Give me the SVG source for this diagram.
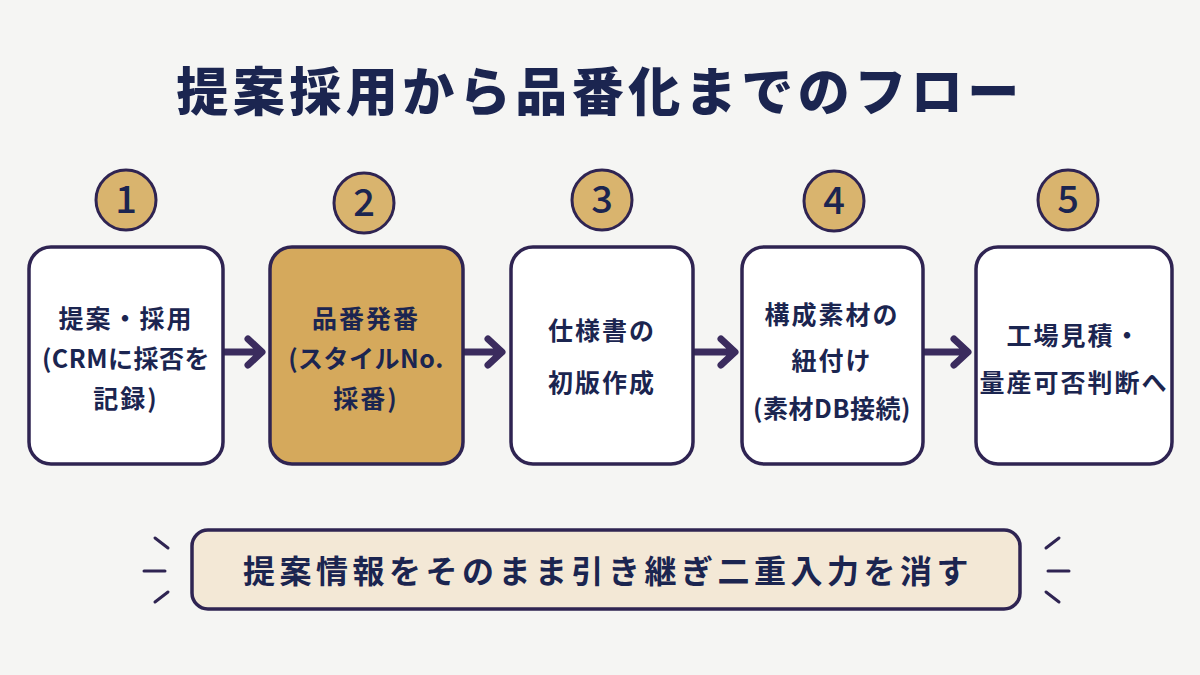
<svg xmlns="http://www.w3.org/2000/svg" width="1200" height="675" viewBox="0 0 1200 675">
<defs>
<style>
text{font-family:"Noto Sans CJK JP","Noto Sans",sans-serif;fill:#1b2550;text-anchor:middle;font-weight:700}
.title{font-size:52px;letter-spacing:4.5px;font-weight:900}
.num{font-size:38px;font-weight:500}
.lbl{font-size:25px;letter-spacing:2px}
.tight{letter-spacing:0.5px}
.box{fill:#ffffff;stroke:#2f2452;stroke-width:3.5}
.hl{fill:#d5a95c}
.badge{fill:#d9b46e;stroke:#2f2452;stroke-width:3}
.arr{fill:none;stroke:#3b2c5e;stroke-width:7;stroke-linecap:round;stroke-linejoin:round}
.tick{stroke:#2f2452;stroke-width:3;stroke-linecap:round}
</style>
</defs>
<rect width="1200" height="675" fill="#f5f5f3"/>
<text class="title" x="600" y="111">提案採用から品番化までのフロー</text>

<g id="connectors">
<path class="arr" d="M224 352H260M248 339L262 352L248 365"/>
<path class="arr" d="M464 352H500M488 339L502 352L488 365"/>
<path class="arr" d="M695 352H733M721 339L735 352L721 365"/>
<path class="arr" d="M924 352H966M954 339L968 352L954 365"/>
</g>

<g id="node1">
<circle class="badge" cx="126" cy="200" r="30"/>
<text class="num" x="126" y="213">1</text>
<rect class="box" x="29" y="247" width="194" height="217" rx="22"/>
<text class="lbl" x="126" y="328">提案・採用</text>
<text class="lbl tight" x="126" y="368">(CRMに採否を</text>
<text class="lbl" x="126" y="408">記録)</text>
</g>

<g id="node2">
<circle class="badge" cx="364" cy="203" r="30"/>
<text class="num" x="364" y="216">2</text>
<rect class="box hl" x="270" y="247" width="193" height="217" rx="22"/>
<text class="lbl" x="366" y="328">品番発番</text>
<text class="lbl tight" x="366" y="368">(スタイルNo.</text>
<text class="lbl" x="366" y="408">採番)</text>
</g>

<g id="node3">
<circle class="badge" cx="602" cy="200" r="30"/>
<text class="num" x="602" y="213">3</text>
<rect class="box" x="511" y="247" width="182" height="217" rx="22"/>
<text class="lbl" x="602" y="340">仕様書の</text>
<text class="lbl" x="602" y="392">初版作成</text>
</g>

<g id="node4">
<circle class="badge" cx="834" cy="201" r="30"/>
<text class="num" x="834" y="214">4</text>
<rect class="box" x="742" y="247" width="181" height="217" rx="22"/>
<text class="lbl" x="832" y="324">構成素材の</text>
<text class="lbl" x="832" y="370">紐付け</text>
<text class="lbl tight" x="832" y="418">(素材DB接続)</text>
</g>

<g id="node5">
<circle class="badge" cx="1068" cy="200" r="30"/>
<text class="num" x="1068" y="213">5</text>
<rect class="box" x="976" y="247" width="196" height="217" rx="22"/>
<text class="lbl" x="1074" y="345">工場見積・</text>
<text class="lbl" x="1074" y="392">量産可否判断へ</text>
</g>

<g id="banner">
<rect x="192" y="530" width="828" height="79" rx="16" fill="#f3e8d6" stroke="#2f2452" stroke-width="3.5"/>
<text x="608" y="583" style="font-size:32px;letter-spacing:4.5px">提案情報をそのまま引き継ぎ二重入力を消す</text>
<line class="tick" x1="155" y1="538" x2="168" y2="548"/>
<line class="tick" x1="144" y1="571" x2="165" y2="571"/>
<line class="tick" x1="155" y1="602" x2="168" y2="592"/>
<line class="tick" x1="1059" y1="538" x2="1046" y2="548"/>
<line class="tick" x1="1048" y1="571" x2="1069" y2="571"/>
<line class="tick" x1="1059" y1="602" x2="1046" y2="592"/>
</g>
</svg>
